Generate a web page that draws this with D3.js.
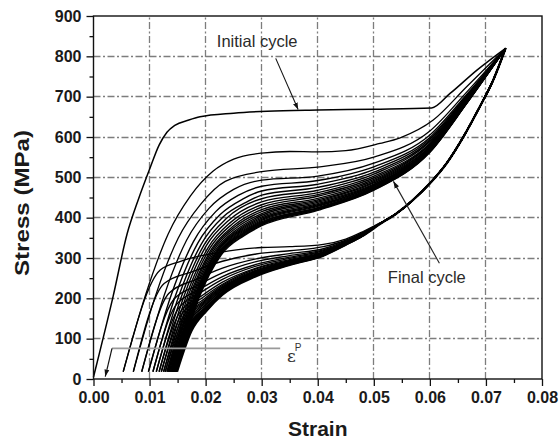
<!DOCTYPE html>
<html>
<head>
<meta charset="utf-8">
<script src="https://cdn.jsdelivr.net/npm/d3@7"></script>
<style>
  body { margin: 0; background: #fff; }
  svg { display: block; }
</style>
</head>
<body>
<svg id="chart" width="559" height="441"></svg>
<script>
// ---- axis ticks ----
const xTicks = [0, 0.01, 0.02, 0.03, 0.04, 0.05, 0.06, 0.07, 0.08];
const xMinorTicks = [0.005, 0.015, 0.025, 0.035, 0.045, 0.055, 0.065, 0.075];
const yTicks = [0, 100, 200, 300, 400, 500, 600, 700, 800, 900];
const yMinorTicks = [50, 150, 250, 350, 450, 550, 650, 750, 850];

// ---- first loading branch (strain, stress MPa) ----
const initialLoading = [[0, 5], [0.0035, 205], [0.006, 360], [0.008, 445], [0.010, 520], [0.0117, 580],
  [0.0131, 612], [0.0145, 629], [0.017, 642], [0.019, 650], [0.025, 659], [0.031, 664], [0.040, 667],
  [0.050, 669], [0.0603, 672], [0.0636, 708], [0.0684, 766], [0.0735, 820]];

// ---- loading branches of cycles 2 .. final ----
const loadingBranches = [
  [[.0053,18],[.0093,209],[.0133,359],[.0173,454],[.0213,515],[.025,545],[.03,560],[.035,564],[.040,563],[.045,566],[.0511,584],[.0547,598],[.0606,642],[.0666,725],[.0735,820]],
  [[.0071,18],[.0111,208],[.0151,349],[.0191,433],[.0235,490],[.03,514],[.0404,526],[.05,550],[.06,615],[.0666,712],[.0735,820]],
  [[.0086,18],[.0126,207],[.0166,344],[.0206,423],[.025,470],[.03,493],[.04,503],[.05,535],[.06,605],[.0666,706],[.0735,820]],
  [[.0098,18],[.0138,206],[.0178,340],[.0218,415],[.0258,455],[.03,478],[.04,492],[.05,526],[.06,599],[.0666,703],[.0735,820]],
  [[.0106,18],[.0146,206],[.0186,337],[.0226,408],[.0266,446],[.03,466],[.04,483],[.05,519],[.06,595],[.0666,701],[.0735,820]],
  [[.0112,18],[.0152,205],[.0192,334],[.0232,403],[.0272,438],[.03,456],[.04,475],[.05,513],[.06,591],[.0666,699],[.0735,820]],
  [[.0117,18],[.0157,205],[.0197,332],[.0237,398],[.03,447],[.04,468],[.05,508],[.06,588],[.0666,697],[.0735,820]],
  [[.0121,18],[.0161,204],[.0201,330],[.0241,393],[.03,439],[.04,462],[.05,503],[.06,584],[.0666,695],[.0735,820]],
  [[.0125,18],[.0165,204],[.0205,327],[.0245,389],[.03,432],[.04,457],[.05,499],[.06,582],[.0666,694],[.0735,820]],
  [[.0128,18],[.0168,203],[.0208,325],[.0248,385],[.03,426],[.04,453],[.05,495],[.06,580],[.0666,693],[.0735,820]],
  [[.0131,18],[.0171,203],[.0211,323],[.0251,381],[.03,420],[.04,448],[.05,492],[.06,577],[.0666,692],[.0735,820]],
  [[.0133,18],[.0173,203],[.0213,322],[.0253,378],[.03,415],[.04,444],[.05,489],[.06,575],[.0666,691],[.0735,820]],
  [[.0135,18],[.0175,202],[.0215,320],[.0255,375],[.03,410],[.04,441],[.05,486],[.06,573],[.0666,690],[.0735,820]],
  [[.0137,18],[.0177,202],[.0217,318],[.0257,372],[.03,406],[.04,438],[.05,483],[.06,572],[.0666,689],[.0735,820]],
  [[.0139,18],[.0179,202],[.0219,317],[.0259,370],[.03,402],[.04,435],[.05,481],[.06,570],[.0666,688],[.0735,820]],
  [[.0140,18],[.0180,201],[.0220,316],[.0260,368],[.03,399],[.04,432],[.05,479],[.06,569],[.0666,688],[.0735,820]],
  [[.0141,18],[.0181,201],[.0221,315],[.0261,366],[.03,396],[.04,430],[.05,478],[.06,568],[.0666,687],[.0735,820]],
  [[.0142,18],[.0182,201],[.0222,313],[.0262,364],[.03,393],[.04,428],[.05,476],[.06,567],[.0666,687],[.0735,820]],
  [[.0143,18],[.0183,201],[.0223,312],[.0263,362],[.03,390],[.04,425],[.05,474],[.06,566],[.0666,686],[.0735,820]],
  [[.0144,18],[.0184,201],[.0224,312],[.0264,360],[.03,388],[.04,424],[.05,473],[.06,565],[.0666,686],[.0735,820]],
  [[.0145,18],[.0185,200],[.0225,311],[.0265,359],[.03,386],[.04,423],[.05,472],[.06,564],[.0666,685],[.0735,820]],
  [[.0146,18],[.0186,200],[.0226,310],[.0266,358],[.03,384],[.04,421],[.05,470],[.06,564],[.0666,685],[.0735,820]],
  [[.0147,18],[.0187,200],[.0227,309],[.0267,356],[.03,382],[.04,420],[.05,469],[.06,563],[.0666,684],[.0735,820]],
  [[.0148,18],[.0188,200],[.0228,308],[.0268,355],[.03,380],[.04,418],[.05,468],[.06,562],[.0666,684],[.0735,820]]
];

// ---- unloading: common upper part from the peak, then one tail per cycle ----
const unloadingTop = [[0.0735, 820], [0.0713, 741], [0.0689, 675], [0.066, 601], [0.063, 535],
  [0.060, 485], [0.057, 444], [0.0541, 411]];

const unloadingTails = [
  [[.0511,387],[.048,365],[.045,347],[.041,334],[.035,328],[.030,326],[.0255,320],[.0226,314],[.019,305],[.0154,291],[.0119,270],[.0053,18]],
  [[.0511,386],[.048,363],[.045,344],[.041,328],[.035,318],[.029,310],[.023,292],[.0178,267],[.0126,237],[.0071,18]],
  [[.0511,386],[.048,361],[.045,342],[.041,323],[.035,311],[.029,298],[.023,275],[.0183,247],[.0135,213],[.0086,18]],
  [[.0511,386],[.048,360],[.045,340],[.041,320],[.035,306],[.029,291],[.023,263],[.0187,233],[.0143,197],[.0098,18]],
  [[.0511,386],[.048,359],[.045,339],[.041,318],[.035,302],[.029,284],[.023,254],[.0189,222],[.0147,183],[.0106,18]],
  [[.0511,385],[.048,359],[.045,338],[.041,316],[.035,299],[.029,280],[.023,247],[.0191,214],[.0151,174],[.0112,18]],
  [[.0511,385],[.048,358],[.045,337],[.041,314],[.035,296],[.029,275],[.023,240],[.0192,205],[.0153,163],[.0117,18]],
  [[.0511,385],[.048,358],[.045,337],[.041,313],[.035,294],[.029,273],[.023,235],[.0193,200],[.0156,158],[.0121,18]],
  [[.0511,385],[.048,357],[.045,336],[.041,312],[.035,293],[.029,270],[.023,232],[.0195,196],[.0159,153],[.0125,18]],
  [[.0511,385],[.048,357],[.045,336],[.041,311],[.035,292],[.029,268],[.023,229],[.0196,193],[.0161,149],[.0128,18]],
  [[.0511,385],[.048,357],[.045,335],[.041,311],[.035,291],[.029,267],[.023,227],[.0197,191],[.0163,146],[.0131,18]],
  [[.0511,385],[.048,357],[.045,335],[.041,310],[.035,290],[.029,266],[.023,225],[.0197,188],[.0164,143],[.0133,18]],
  [[.0511,385],[.048,356],[.045,335],[.041,310],[.035,289],[.029,264],[.023,223],[.0198,186],[.0166,140],[.0135,18]],
  [[.0511,385],[.048,356],[.045,335],[.041,309],[.035,288],[.029,263],[.023,221],[.0199,183],[.0167,137],[.0137,18]],
  [[.0511,385],[.048,356],[.045,334],[.041,309],[.035,288],[.029,262],[.023,220],[.0199,182],[.0168,135],[.0139,18]],
  [[.0511,385],[.048,356],[.045,334],[.041,308],[.035,287],[.029,261],[.023,217],[.0200,179],[.0169,132],[.0140,18]],
  [[.0511,385],[.048,356],[.045,334],[.041,308],[.035,286],[.029,260],[.023,216],[.0200,177],[.0169,130],[.0141,18]],
  [[.0511,385],[.048,356],[.045,334],[.041,308],[.035,286],[.029,259],[.023,215],[.0200,176],[.0170,129],[.0142,18]],
  [[.0511,385],[.048,356],[.045,334],[.041,307],[.035,285],[.029,259],[.023,214],[.0200,175],[.0171,128],[.0143,18]],
  [[.0511,385],[.048,355],[.045,334],[.041,307],[.035,285],[.029,258],[.023,213],[.0201,174],[.0171,126],[.0144,18]],
  [[.0511,385],[.048,355],[.045,333],[.041,307],[.035,284],[.029,257],[.023,212],[.0201,173],[.0172,125],[.0145,18]],
  [[.0511,385],[.048,355],[.045,333],[.041,307],[.035,284],[.029,256],[.023,211],[.0201,171],[.0172,123],[.0146,18]],
  [[.0511,385],[.048,355],[.045,333],[.041,306],[.035,284],[.029,256],[.023,211],[.0202,171],[.0173,122],[.0147,18]],
  [[.0511,385],[.048,355],[.045,333],[.041,306],[.035,283],[.029,256],[.023,210],[.0202,170],[.0174,121],[.0148,18]],
  [[.0511,384],[.048,355],[.045,333],[.041,306],[.035,283],[.029,255],[.023,209],[.0202,170],[.0175,120],[.0149,18]]
];

// ---- annotations (data coordinates) ----
const initialLabel = { text: "Initial cycle", at: [0.0220, 822] };
const initialArrow = { from: [0.0325, 795], to: [0.0365, 668] };
const finalLabel = { text: "Final cycle", at: [0.0525, 237] };
const finalArrow = { from: [0.0617, 287], to: [0.0535, 490] };
const residualLine = { from: [0.0033, 76], to: [0.0333, 76] };
const residualArrow = { from: [0.0033, 76], to: [0.0021, 6] };
const residualLabel = { at: [0.0345, 42] };

// ---- scales ----
const x = d3.scaleLinear().domain([0, 0.08]).range([93.5, 542]);
const y = d3.scaleLinear().domain([0, 900]).range([379, 16]);
const snap = v => Math.round(v - 0.5) + 0.5;

const svg = d3.select("#chart");
const FONT = "'Liberation Sans', Arial, Helvetica, sans-serif";

svg.append("defs").append("marker")
  .attr("id", "head")
  .attr("viewBox", "0 0 10 10")
  .attr("refX", 10).attr("refY", 5)
  .attr("markerWidth", 7).attr("markerHeight", 7)
  .attr("markerUnits", "userSpaceOnUse")
  .attr("orient", "auto")
  .append("path").attr("d", "M0,1.5 L10,5 L0,8.5 Z").attr("fill", "#111");

// ---- dash-dot grid ----
const gridLayer = svg.append("g").attr("class", "grid");
gridLayer.selectAll("line.v").data(xTicks.filter(d => d > 0 && d < 0.08)).enter().append("line")
  .attr("class", "v")
  .attr("x1", d => snap(x(d))).attr("x2", d => snap(x(d)))
  .attr("y1", y(0)).attr("y2", y(900))
  .attr("stroke", "#7d7d7d").attr("stroke-width", 1.3).attr("stroke-dasharray", "7 2.5 2 2.5");
gridLayer.selectAll("line.h").data(yTicks.filter(d => d > 0 && d < 900)).enter().append("line")
  .attr("class", "h")
  .attr("x1", x(0)).attr("x2", x(0.08))
  .attr("y1", d => snap(y(d))).attr("y2", d => snap(y(d)))
  .attr("stroke", "#7d7d7d").attr("stroke-width", 1.3).attr("stroke-dasharray", "7 2.5 2 2.5");

// ---- curves ----
const pathGen = d3.line().x(d => x(d[0])).y(d => y(d[1])).curve(d3.curveMonotoneX);
const curves = svg.append("g").attr("fill", "none").attr("stroke", "#000")
  .attr("stroke-linejoin", "round");

const unloadingPaths = unloadingTails.map(t => unloadingTop.concat(t).slice().reverse());
curves.selectAll("path.unl").data(unloadingPaths).join("path")
  .attr("class", "unl")
  .attr("d", pathGen)
  .attr("stroke-width", (d, i) => (i === 0 ? 1.3 : i === unloadingPaths.length - 1 ? 2.3 : 1.35));

curves.selectAll("path.ld").data(loadingBranches).join("path")
  .attr("class", "ld")
  .attr("d", pathGen)
  .attr("stroke-width", (d, i) => (i < 3 ? 1.3 : 1.4));

curves.append("path").attr("d", pathGen(initialLoading)).attr("stroke-width", 1.5);

// ---- frame ----
svg.append("rect")
  .attr("x", x(0)).attr("y", y(900))
  .attr("width", x(0.08) - x(0)).attr("height", y(0) - y(900))
  .attr("fill", "none").attr("stroke", "#111").attr("stroke-width", 1.4);

// ---- axes ----
const styleAxis = g => {
  g.select(".domain").remove();
  g.selectAll(".tick line").attr("stroke", "#111").attr("stroke-width", 1.3);
  g.selectAll(".tick text").attr("fill", "#1a1a1a")
    .style("font-family", FONT).style("font-weight", "bold").style("font-size", "16px");
};

svg.append("g").attr("transform", `translate(0,${y(0)})`)
  .call(d3.axisBottom(x).tickValues(xTicks).tickFormat(d3.format(".2f")).tickSize(7).tickPadding(6))
  .call(styleAxis);
svg.append("g").attr("transform", `translate(0,${y(0)})`)
  .call(d3.axisBottom(x).tickValues(xMinorTicks).tickFormat("").tickSize(4))
  .call(styleAxis);
svg.append("g").attr("transform", `translate(${x(0)},0)`)
  .call(d3.axisLeft(y).tickValues(yTicks).tickFormat(d3.format("d")).tickSize(7).tickPadding(5))
  .call(styleAxis);
svg.append("g").attr("transform", `translate(${x(0)},0)`)
  .call(d3.axisLeft(y).tickValues(yMinorTicks).tickFormat("").tickSize(4))
  .call(styleAxis);

// ---- axis titles ----
svg.append("text")
  .attr("x", (x(0) + x(0.08)) / 2).attr("y", 436)
  .attr("text-anchor", "middle")
  .style("font-family", FONT).style("font-weight", "bold").style("font-size", "21px")
  .attr("fill", "#1a1a1a")
  .text("Strain");

svg.append("text")
  .attr("transform", `translate(28.5,${203}) rotate(-90)`)
  .attr("text-anchor", "middle")
  .attr("textLength", 146).attr("lengthAdjust", "spacingAndGlyphs")
  .style("font-family", FONT).style("font-weight", "bold").style("font-size", "21px")
  .attr("fill", "#1a1a1a")
  .text("Stress (MPa)");

// ---- annotations ----
const ann = svg.append("g");
ann.append("text")
  .attr("x", x(initialLabel.at[0])).attr("y", y(initialLabel.at[1]))
  .style("font-family", FONT).style("font-size", "16.5px").attr("fill", "#2a2a2a")
  .text(initialLabel.text);
ann.append("line")
  .attr("x1", x(initialArrow.from[0])).attr("y1", y(initialArrow.from[1]))
  .attr("x2", x(initialArrow.to[0])).attr("y2", y(initialArrow.to[1]))
  .attr("stroke", "#111").attr("stroke-width", 1.1).attr("marker-end", "url(#head)");

ann.append("text")
  .attr("x", x(finalLabel.at[0])).attr("y", y(finalLabel.at[1]))
  .style("font-family", FONT).style("font-size", "16.5px").attr("fill", "#2a2a2a")
  .text(finalLabel.text);
ann.append("line")
  .attr("x1", x(finalArrow.from[0])).attr("y1", y(finalArrow.from[1]))
  .attr("x2", x(finalArrow.to[0])).attr("y2", y(finalArrow.to[1]))
  .attr("stroke", "#222").attr("stroke-width", 1.1).attr("marker-end", "url(#head)");

ann.append("line")
  .attr("x1", x(residualLine.from[0])).attr("y1", y(residualLine.from[1]))
  .attr("x2", x(residualLine.to[0])).attr("y2", y(residualLine.to[1]))
  .attr("stroke", "#9a9a9a").attr("stroke-width", 1.6);
ann.append("line")
  .attr("x1", x(residualArrow.from[0])).attr("y1", y(residualArrow.from[1]))
  .attr("x2", x(residualArrow.to[0])).attr("y2", y(residualArrow.to[1]))
  .attr("stroke", "#111").attr("stroke-width", 1.2).attr("marker-end", "url(#head)");

const eps = ann.append("text")
  .attr("x", x(residualLabel.at[0])).attr("y", y(residualLabel.at[1]))
  .style("font-family", "'DejaVu Serif', serif").style("font-size", "17px").attr("fill", "#333");
eps.append("tspan").text("ε");
eps.append("tspan").attr("dx", -1).attr("dy", -11)
  .style("font-family", FONT).style("font-size", "10px").attr("fill", "#333").text("P");
</script>
</body>
</html>
